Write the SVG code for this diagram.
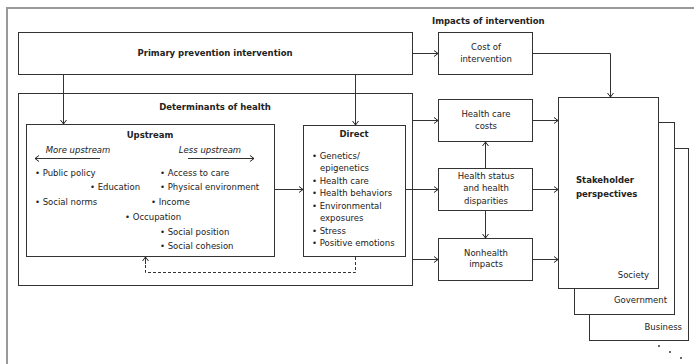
<svg xmlns="http://www.w3.org/2000/svg" width="694" height="364" viewBox="0 0 694 364">
<defs>
<marker id="ah" markerWidth="8" markerHeight="8" refX="6" refY="4" orient="auto" markerUnits="userSpaceOnUse">
<path d="M2,1 L6,4 L2,7" fill="none" stroke="#222" stroke-width="1"/>
</marker>
<style>
.box{fill:#fff;stroke:#333;stroke-width:1}
.frame{fill:none;stroke:#999;stroke-width:2}
.t{font-family:"DejaVu Sans",Verdana,sans-serif;font-size:8.5px;fill:#222}
.b{font-weight:bold}
.i{font-style:italic}
.m{text-anchor:middle}
.e{text-anchor:end}
.c{fill:none;stroke:#333;stroke-width:1;marker-end:url(#ah)}
.d{fill:none;stroke:#333;stroke-width:1;stroke-dasharray:3,2}
</style>
</defs>
<rect width="694" height="364" fill="#fff"/>
<path class="frame" d="M7,370 V8 H700"/>

<g id="primary">
<rect class="box" x="18.5" y="32.5" width="394" height="42"/>
<text class="t b m" x="215" y="56">Primary prevention intervention</text>
</g>

<g id="determinants">
<rect class="box" x="18.5" y="93.5" width="394" height="192"/>
<text class="t b m" x="215" y="110">Determinants of health</text>
</g>

<g id="upstream">
<rect class="box" x="26.5" y="124.5" width="248" height="132"/>
<text class="t b m" x="150" y="138">Upstream</text>
<text class="t i m" x="78" y="153">More upstream</text>
<text class="t i m" x="210" y="153">Less upstream</text>
<text class="t" x="35" y="176">• Public policy</text>
<text class="t" x="90" y="190">• Education</text>
<text class="t" x="35" y="205">• Social norms</text>
<text class="t" x="125" y="220">• Occupation</text>
<text class="t" x="160" y="176">• Access to care</text>
<text class="t" x="160" y="190">• Physical environment</text>
<text class="t" x="151" y="205">• Income</text>
<text class="t" x="160" y="235">• Social position</text>
<text class="t" x="160" y="249">• Social cohesion</text>
</g>

<g id="direct">
<rect class="box" x="303.5" y="125.5" width="102" height="131"/>
<text class="t b m" x="354" y="137">Direct</text>
<text class="t" x="312" y="159">• Genetics/</text>
<text class="t" x="320" y="171">epigenetics</text>
<text class="t" x="312" y="183.5">• Health care</text>
<text class="t" x="312" y="196">• Health behaviors</text>
<text class="t" x="312" y="208.5">• Environmental</text>
<text class="t" x="320" y="221">exposures</text>
<text class="t" x="312" y="233.5">• Stress</text>
<text class="t" x="312" y="246">• Positive emotions</text>
</g>

<text class="t b" x="432" y="24">Impacts of intervention</text>

<g id="cost">
<rect class="box" x="438.5" y="32.5" width="94" height="42"/>
<text class="t m" x="486" y="50">Cost of</text>
<text class="t m" x="486" y="62">intervention</text>
</g>

<g id="hccosts">
<rect class="box" x="438.5" y="99.5" width="94" height="42"/>
<text class="t m" x="486" y="117">Health care</text>
<text class="t m" x="486" y="129">costs</text>
</g>

<g id="status">
<rect class="box" x="438.5" y="168.5" width="94" height="42"/>
<text class="t m" x="486" y="179">Health status</text>
<text class="t m" x="486" y="191">and health</text>
<text class="t m" x="486" y="203.5">disparities</text>
</g>

<g id="nonhealth">
<rect class="box" x="438.5" y="238.5" width="94" height="42"/>
<text class="t m" x="486" y="255.5">Nonhealth</text>
<text class="t m" x="486" y="267">impacts</text>
</g>

<g id="business">
<rect class="box" x="589.5" y="148.5" width="99" height="192"/>
<text class="t e" x="682" y="330">Business</text>
</g>
<g id="government">
<rect class="box" x="574.5" y="122.5" width="100" height="192"/>
<text class="t e" x="667" y="303">Government</text>
</g>
<g id="society">
<rect class="box" x="558.5" y="97.5" width="100" height="191"/>
<text class="t b" x="576" y="183">Stakeholder</text>
<text class="t b" x="576" y="197">perspectives</text>
<text class="t e" x="649" y="278">Society</text>
</g>

<g id="dots" fill="#222">
<circle cx="659" cy="346" r="0.9"/>
<circle cx="670" cy="352" r="0.9"/>
<circle cx="681" cy="358" r="0.9"/>
</g>

<g id="connectors">
<path class="c" d="M100,158.5 H35"/>
<path class="c" d="M188,158.5 H254"/>
<path class="c" d="M63.5,75 V124"/>
<path class="c" d="M355.5,75 V125"/>
<path class="c" d="M275,189.5 H303"/>
<path class="d" d="M355.5,257 V272.5 H145.5 V262"/>
<path class="c" d="M145.5,264 V257"/>
<path class="c" d="M413,53.5 H438"/>
<path class="c" d="M413,120.5 H438"/>
<path class="c" d="M406,189.5 H438"/>
<path class="c" d="M413,259.5 H438"/>
<path class="c" d="M485.5,168 V142"/>
<path class="c" d="M485.5,211 V238"/>
<path class="c" d="M533,53.5 H610.5 V97"/>
<path class="c" d="M533,120.5 H558"/>
<path class="c" d="M533,189.5 H558"/>
<path class="c" d="M533,259.5 H558"/>
</g>
</svg>
